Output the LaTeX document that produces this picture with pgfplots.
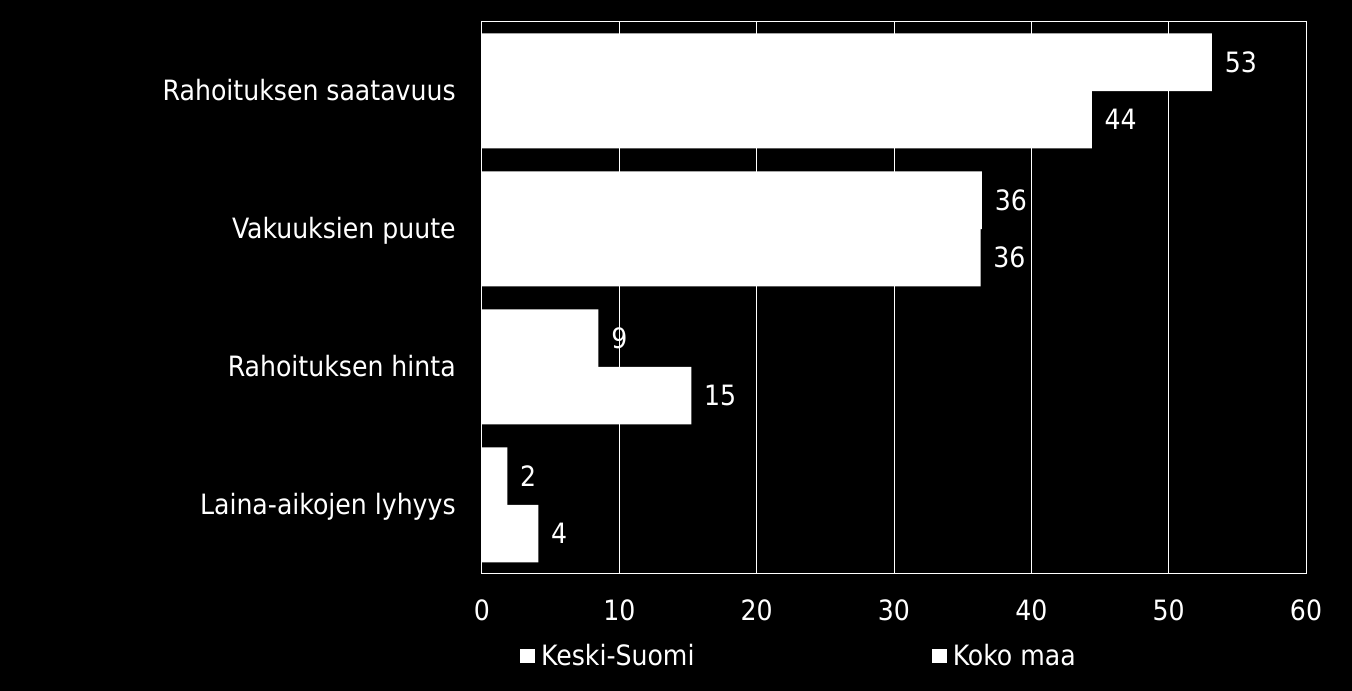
\documentclass[border=0pt]{standalone}
\usepackage{pgfplots}
\usepackage{pgfplotstable}
\pgfplotsset{compat=1.18}
\usepackage{fontspec}
\setmainfont{DejaVu Sans Condensed}

\pgfplotstableread{
y x lab
3.2083 53.15 53
2.2083 36.4 36
1.2083 8.47 9
0.2083 1.84 2
}\keski
\pgfplotstableread{
y x lab
2.7917 44.4 44
1.7917 36.3 36
0.7917 15.24 15
-0.2083 4.1 4
}\koko

\begin{document}
\begin{tikzpicture}[font=\fontsize{21pt}{25pt}\selectfont]
\path[use as bounding box, fill=black] (-361.5pt,-87.75pt) rectangle (652.5pt,430.5pt);
\begin{axis}[
  at={(0pt,0pt)}, anchor=south west,
  scale only axis, width=618pt, height=414pt,
  xmin=0, xmax=60, ymin=-0.5, ymax=3.5,
  xtick={0,10,...,60}, ytick={0,1,2,3},
  yticklabels={Laina-aikojen lyhyys, Rahoituksen hinta, Vakuuksien puute, Rahoituksen saatavuus},
  xmajorgrids, grid style={white, line width=0.75pt},
  axis line style={white, line width=0.75pt},
  major tick length=0pt, tick style={draw=none},
  /pgf/number format/assume math mode=true,
  xticklabel style={white, anchor=center, inner sep=0pt, yshift=-27pt},
  yticklabel style={white, anchor=base east, inner sep=0pt, xshift=-19.5pt, yshift=-7.5pt},
  legend columns=2,
  legend style={draw=none, fill=none, text=white, inner sep=0pt,
    at={(0.046,-0.1486)}, anchor=west,
    nodes={inner sep=0pt},
    /tikz/every odd column/.append style={column sep=4.5pt},
    /tikz/every even column/.append style={column sep=178pt}},
  legend image code/.code={\fill[white] (0pt,-5.6pt) rectangle (11.25pt,5.6pt);},
  nodes near coords style={white, anchor=west, inner sep=0pt, xshift=9.5pt},
]
\addplot[xbar, fill=white, draw=none, bar width=0.4167, bar shift=0pt,
  nodes near coords, point meta=explicit symbolic]
  table[x=x, y=y, meta=lab] {\keski};
\addlegendentry{Keski-Suomi}
\addplot[xbar, fill=white, draw=none, bar width=0.4167, bar shift=0pt,
  nodes near coords, point meta=explicit symbolic]
  table[x=x, y=y, meta=lab] {\koko};
\addlegendentry{Koko maa}
\end{axis}
\end{tikzpicture}
\end{document}
